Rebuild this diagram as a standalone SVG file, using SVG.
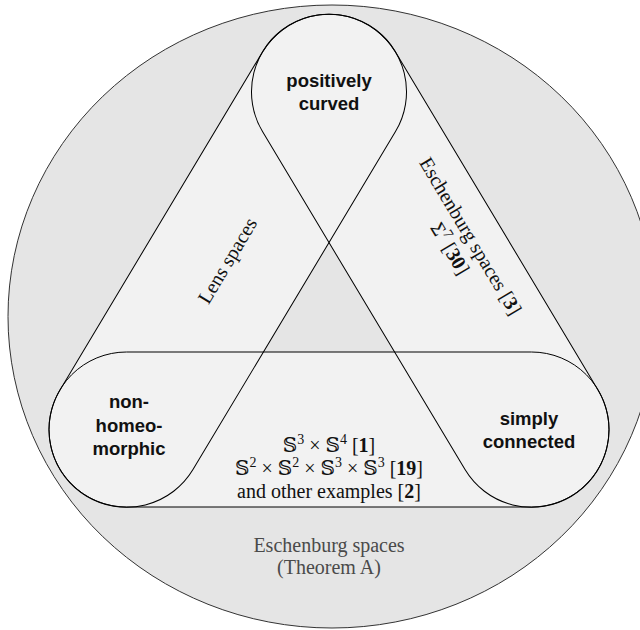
<svg xmlns="http://www.w3.org/2000/svg" xmlns:xlink="http://www.w3.org/1999/xlink" width="640" height="630" viewBox="0 0 640 630">
<style>
.band{fill:#f2f2f2;stroke:none}
.outline{fill:none;stroke:#000;stroke-width:1}
.lbl{font-family:"Liberation Sans","DejaVu Sans",sans-serif;font-weight:bold;font-size:18.5px;fill:#111;text-anchor:middle}
.ser{font-family:"Liberation Serif","DejaVu Serif","DejaVu Sans",serif;font-size:20px;fill:#111;text-anchor:middle}
.gray{fill:#4a4a4a}
.sup{font-size:14px}
.b{font-weight:bold}
</style>
<defs>
<rect id="shapeLens" x="-274.5" y="-77.5" width="549" height="155" rx="77.5" ry="77.5" transform="translate(227.75,260.75) rotate(-59.07)"/>
<rect id="shapeEsch" x="-274.5" y="-77.5" width="549" height="155" rx="77.5" ry="77.5" transform="translate(430.25,260.75) rotate(59.07)"/>
<rect id="shapeProd" x="49" y="352" width="560" height="155" rx="77.5" ry="77.5"/>
</defs>
<g id="universe">
<ellipse cx="332" cy="316.5" rx="324" ry="311.5" fill="#e5e5e5" stroke="#333" stroke-width="1"/>
<text class="ser gray" x="329" y="552">Eschenburg spaces</text>
<text class="ser gray" x="329" y="574">(Theorem A)</text>
</g>
<g id="band-lens"><use xlink:href="#shapeLens" href="#shapeLens" class="band"/></g>
<g id="band-eschenburg"><use xlink:href="#shapeEsch" href="#shapeEsch" class="band"/></g>
<g id="band-products"><use xlink:href="#shapeProd" href="#shapeProd" class="band"/></g>
<g id="outlines">
<use xlink:href="#shapeLens" href="#shapeLens" class="outline"/>
<use xlink:href="#shapeEsch" href="#shapeEsch" class="outline"/>
<use xlink:href="#shapeProd" href="#shapeProd" class="outline"/>
</g>
<g id="positively-curved">
<text class="lbl" x="329" y="87">positively</text>
<text class="lbl" x="329" y="110">curved</text>
</g>
<g id="non-homeomorphic">
<text class="lbl" x="129" y="408">non-</text>
<text class="lbl" x="129" y="432">homeo-</text>
<text class="lbl" x="129" y="455">morphic</text>
</g>
<g id="simply-connected">
<text class="lbl" x="529" y="424.5">simply</text>
<text class="lbl" x="529" y="447.5">connected</text>
</g>
<g id="lens-label" transform="translate(228,261) rotate(-59.07)">
<text class="ser" x="0" y="6">Lens spaces</text>
</g>
<g id="eschenburg-label" transform="translate(470,236.5) rotate(59.07)">
<text class="ser" x="0" y="6">Eschenburg spaces [<tspan class="b">3</tspan>]</text>
<text class="ser" x="0" y="30">Σ<tspan class="sup" dy="-8">7</tspan><tspan dy="8"> [<tspan class="b">30</tspan>]</tspan></text>
</g>
<g id="products-label">
<text class="ser" x="329" y="452">𝕊<tspan class="sup" dy="-8">3</tspan><tspan dy="8"> × 𝕊</tspan><tspan class="sup" dy="-8">4</tspan><tspan dy="8"> [<tspan class="b">1</tspan>]</tspan></text>
<text class="ser" x="329" y="475">𝕊<tspan class="sup" dy="-8">2</tspan><tspan dy="8"> × 𝕊</tspan><tspan class="sup" dy="-8">2</tspan><tspan dy="8"> × 𝕊</tspan><tspan class="sup" dy="-8">3</tspan><tspan dy="8"> × 𝕊</tspan><tspan class="sup" dy="-8">3</tspan><tspan dy="8"> [<tspan class="b">19</tspan>]</tspan></text>
<text class="ser" x="329" y="498">and other examples [<tspan class="b">2</tspan>]</text>
</g>
</svg>
